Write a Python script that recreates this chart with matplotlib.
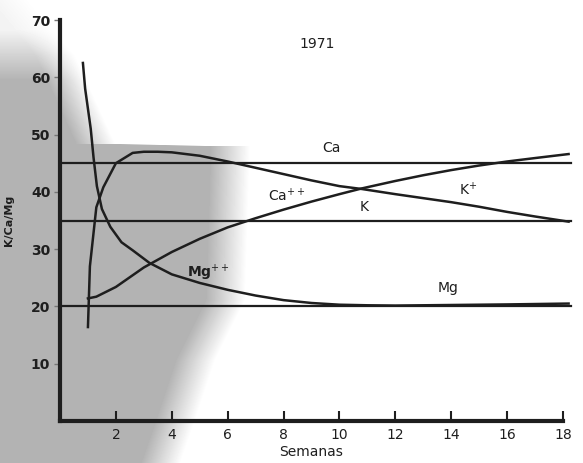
# K/Ca/Mg 1971 - curvas de concentração por semana
import numpy as np
import matplotlib.pyplot as plt

# niveis de referencia (linhas horizontais)
ref_levels = {'Ca': 45, 'K': 35, 'Mg': 20}
ref_end = 18.3

# curva K+ (semanas, valor)
k_weeks = [1.0, 1.07, 1.3, 1.55, 2.0, 2.6, 3.0, 3.5, 4.0, 5.0, 6.0, 7.0, 8.0,
           9.0, 10.0, 10.8, 12.0, 13.0, 14.0, 15.0, 16.0, 17.0, 18.2]
k_vals = [16.4, 27, 37.3, 40.8, 45, 46.8, 47.0, 47.0, 46.9, 46.3, 45.3, 44.2, 43.1,
          42.0, 41.0, 40.5, 39.6, 38.9, 38.2, 37.4, 36.5, 35.7, 34.8]

# curva Ca++
ca_weeks = [1.0, 1.3, 2.0, 3.0, 4.0, 5.0, 6.0, 7.0, 8.0, 9.0, 10.0, 10.8,
            12.0, 13.0, 14.0, 15.0, 16.0, 17.0, 18.2]
ca_vals = [21.4, 21.7, 23.4, 26.8, 29.5, 31.8, 33.8, 35.4, 36.9, 38.3, 39.6, 40.6,
           41.9, 42.9, 43.8, 44.6, 45.3, 45.9, 46.6]

# curva Mg++
mg_weeks = [0.82, 0.9, 1.0, 1.1, 1.2, 1.32, 1.5, 1.8, 2.2, 2.6, 3.2, 4.0, 5.0, 6.0,
            7.0, 8.0, 9.0, 10.0, 11.0, 12.0, 14.0, 16.0, 18.2]
mg_vals = [62.5, 58, 54.5, 51, 46, 41, 37, 33.9, 31.2, 29.8, 27.6, 25.6, 24.1, 22.9,
           21.9, 21.1, 20.6, 20.3, 20.2, 20.15, 20.25, 20.35, 20.5]

x_ticks = [2, 4, 6, 8, 10, 12, 14, 16, 18]
y_ticks = [10, 20, 30, 40, 50, 60, 70]

ink = '#1e1e1e'

fig = plt.figure(figsize=(5.83, 4.63), dpi=100)

# mancha cinza do papel digitalizado (lado esquerdo)
bg = fig.add_axes([0, 0, 1, 1], zorder=0)
gx, gy = np.meshgrid(np.arange(583), np.arange(463))
edge = np.interp(gy, [0, 55, 143, 146, 300, 360, 420, 463],
                 [30, 75, 115, 250, 245, 215, 195, 180])
shade = 0.3 * np.clip((edge - gx) / 40, 0, 1)
shade *= np.clip((gy - 20) / 60, 0.15, 1)
bg.imshow(1 - shade, cmap='gray', vmin=0, vmax=1, extent=[0, 583, 463, 0],
          aspect='auto', interpolation='bilinear')
bg.set_xlim(0, 583)
bg.set_ylim(463, 0)
bg.axis('off')

ax = fig.add_axes([60 / 583, 1 - 421 / 463, 503 / 583, 401 / 463], zorder=1)
ax.patch.set_alpha(0)

for name, lvl in ref_levels.items():
    ax.plot([0, ref_end], [lvl, lvl], color=ink, lw=1.6, clip_on=False)

ax.plot(k_weeks, k_vals, color=ink, lw=1.8, clip_on=False)
ax.plot(ca_weeks, ca_vals, color=ink, lw=1.8, clip_on=False)
ax.plot(mg_weeks, mg_vals, color=ink, lw=1.8, clip_on=False)

ax.set_xlim(0, 18)
ax.set_ylim(0, 70)

for s in ['top', 'right']:
    ax.spines[s].set_visible(False)
for s in ['left', 'bottom']:
    ax.spines[s].set_linewidth(3)
    ax.spines[s].set_color(ink)

ax.set_xticks(x_ticks)
ax.set_yticks(y_ticks)
ax.tick_params(axis='x', direction='in', length=7, width=1.5, color=ink,
               labelsize=10, labelcolor=ink, pad=5)
ax.tick_params(axis='y', direction='out', length=4, width=1, color='#777777',
               labelsize=10, labelcolor=ink, pad=3)
for lab in ax.get_yticklabels():
    lab.set_fontweight('bold')

ax.set_xlabel('Semanas', fontsize=10, color=ink, labelpad=2)
ax.set_ylabel('K/Ca/Mg', fontsize=8, fontweight='bold', color=ink, labelpad=12)

# rotulos
ax.text(9.2, 65.8, '1971', fontsize=10, ha='center', va='center', color=ink)
ax.text(9.7, 47.6, 'Ca', fontsize=10, ha='center', va='center', color=ink)
ax.text(8.1, 39.4, r'Ca$^{++}$', fontsize=10, ha='center', va='center', color=ink)
ax.text(10.9, 37.3, 'K', fontsize=10, ha='center', va='center', color=ink)
ax.text(14.6, 40.3, r'K$^{+}$', fontsize=10, ha='center', va='center', color=ink)
ax.text(5.3, 25.8, r'Mg$^{++}$', fontsize=10, fontweight='bold', ha='center', va='center', color=ink)
ax.text(13.9, 23.2, 'Mg', fontsize=10, ha='center', va='center', color=ink)

plt.savefig('out.png', dpi=100)
